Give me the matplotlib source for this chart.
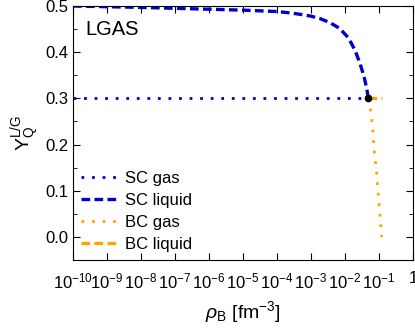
import numpy as np
import matplotlib
matplotlib.use('Agg')
import matplotlib.pyplot as plt
from matplotlib.ticker import MultipleLocator, LogLocator, NullLocator, FuncFormatter

plt.rcParams['font.family'] = ['Liberation Sans', 'DejaVu Sans']
plt.rcParams['mathtext.fontset'] = 'custom'
plt.rcParams['mathtext.rm'] = 'Liberation Sans'
plt.rcParams['mathtext.it'] = 'Liberation Sans:italic'

# Data
rho_crit = 0.0484
y_crit = 0.30

sc_gas_rho = [1e-10, 0.0484]
sc_gas_y = [0.30, 0.30]

sc_liq_rho = [1e-10, 1e-8, 1e-6, 1e-5, 1e-4, 2.5e-4, 4.8e-4, 1.0e-3, 1.8e-3, 3.6e-3,
              7.1e-3, 1.26e-2, 1.95e-2, 2.75e-2, 3.63e-2, 4.37e-2, 0.0484]
sc_liq_y = [0.500, 0.497, 0.493, 0.491, 0.488, 0.485, 0.482, 0.478, 0.473, 0.464,
            0.451, 0.431, 0.405, 0.376, 0.347, 0.321, 0.300]

bc_gas_rho = [0.0484, 0.055, 0.0653, 0.0724, 0.0851, 0.0955, 0.107, 0.120]
bc_gas_y = [0.300, 0.282, 0.234, 0.186, 0.139, 0.092, 0.044, 0.000]

bc_liq_rho = [0.0484, 0.125]
bc_liq_y = [0.30, 0.30]

blue = '#0000cc'
orange = '#ffa500'

fig = plt.figure(figsize=(4.15, 3.29), dpi=100)
ax = fig.add_axes([73/415, 1-260/329, (413-73)/415, (260-6)/329])

ax.plot(sc_gas_rho, sc_gas_y, color=blue, lw=2.0, dashes=(1, 2.8), label='SC gas')
ax.plot(sc_liq_rho, sc_liq_y, color=blue, lw=2.4, dashes=(2.6, 1.3), label='SC liquid')
ax.plot(bc_gas_rho, bc_gas_y, color=orange, lw=2.0, dashes=(1, 2.8), label='BC gas')
ax.plot(bc_liq_rho, bc_liq_y, color=orange, lw=2.4, dashes=(2.6, 1.3), label='BC liquid')
ax.plot([rho_crit], [y_crit], 'o', color='black', ms=4.5, zorder=5)

ax.set_xscale('log')
ax.set_xlim(1e-10, 1)
ax.set_ylim(-0.05, 0.5)


def fmt_x(v, pos):
    e = int(round(np.log10(v)))
    if e == 0:
        return '1'
    return r'$10^{%d}$' % e


ax.xaxis.set_major_locator(LogLocator(base=10, numticks=20))
ax.xaxis.set_minor_locator(NullLocator())
ax.xaxis.set_major_formatter(FuncFormatter(fmt_x))
ax.yaxis.set_major_locator(MultipleLocator(0.1))
ax.yaxis.set_minor_locator(MultipleLocator(0.05))
ax.yaxis.set_major_formatter(FuncFormatter(lambda v, p: f'{v:.1f}'))
ax.tick_params(which='both', direction='in', top=True, right=True, labelsize=12)
ax.tick_params(axis='x', pad=8)
ax.tick_params(which='major', length=5)
ax.tick_params(which='minor', length=3)

ax.set_xlabel(r'$\rho_{\rm B}$ [fm$^{-3}$]', fontsize=14, labelpad=6)
ax.set_ylabel(r'Y$_{\rm Q}^{\rm L/G}$', fontsize=14, labelpad=2)
ax.text(0.035, 0.945, 'LGAS', transform=ax.transAxes, fontsize=14.5, va='top')

ax.legend(loc='lower left', frameon=False, fontsize=12, handlelength=2.2,
          handletextpad=0.4, labelspacing=0.42, borderaxespad=0.1)

fig.savefig('out.png', dpi=100)
